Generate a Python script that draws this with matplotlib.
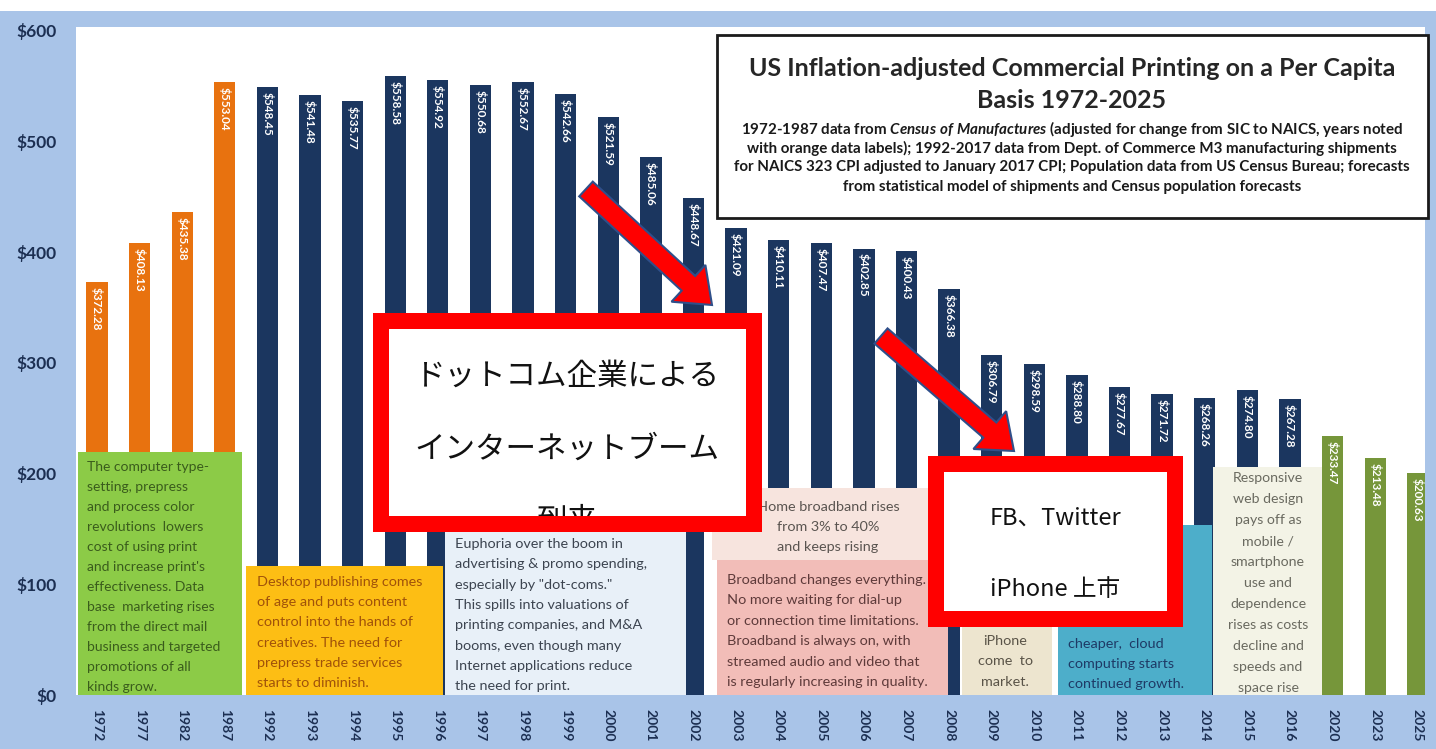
import numpy as np
import matplotlib
matplotlib.use("Agg")
import matplotlib.pyplot as plt
from matplotlib.patches import Rectangle, FancyArrow

plt.rcParams["font.family"] = ["Lato", "Noto Sans CJK JP", "DejaVu Sans"]
plt.rcParams["mathtext.fontset"] = "custom"
plt.rcParams["mathtext.it"] = "Lato:italic:bold"
plt.rcParams["mathtext.rm"] = "Lato:bold"

# ---- data -------------------------------------------------------------
years = ["1972", "1977", "1982", "1987",
         "1992", "1993", "1994", "1995", "1996", "1997", "1998", "1999",
         "2000", "2001", "2002", "2003", "2004", "2005", "2006", "2007",
         "2008", "2009", "2010", "2011", "2012", "2013", "2014", "2015",
         "2016", "2020", "2023", "2025"]
per_capita = [372.28, 408.13, 435.38, 553.04,
              548.45, 541.48, 535.77, 558.58, 554.92, 550.68, 552.67, 542.66,
              521.59, 485.06, 448.67, 421.09, 410.11, 407.47, 402.85, 400.43,
              366.38, 306.79, 298.59, 288.80, 277.67, 271.72, 268.26, 274.80,
              267.28, 233.47, 213.48, 200.63]
source = ["census"] * 4 + ["m3"] * 25 + ["forecast"] * 3
y_ticks = [0, 100, 200, 300, 400, 500, 600]

source_colors = {"census": "#E8720F", "m3": "#1B365F", "forecast": "#76963A"}

W, H = 1436, 749
fig = plt.figure(figsize=(W / 100, H / 100), dpi=100, facecolor="#A9C4E8")

# ---- main bar chart ---------------------------------------------------
ax = fig.add_axes([76 / W, (H - 695) / H, (1425 - 76) / W, (695 - 27) / H])
ax.set_facecolor("white")
x = np.arange(len(years))
ax.bar(x, per_capita, width=0.5, color=[source_colors[s] for s in source], zorder=2)
ax.set_xlim(-0.493, 31.17)
ax.set_ylim(0, 602.7)
for s in ax.spines.values():
    s.set_visible(False)
ax.set_yticks(y_ticks, labels=[f"${v}" for v in y_ticks])
ax.set_xticks(x, labels=years, rotation=270)
ax.tick_params(axis="y", length=0, pad=14, labelsize=12.5, labelcolor="#1C2F52")
ax.tick_params(axis="x", length=0, pad=10, labelsize=10, labelcolor="#1C2F52")
for lab in ax.get_xticklabels() + ax.get_yticklabels():
    lab.set_fontweight("bold")

for xi, v in zip(x, per_capita):
    ax.text(xi, v - 4.5, f"${v:.2f}", rotation=270, ha="center", va="top",
            color="white", fontsize=8.5, fontweight="bold", zorder=3)

# ---- overlay in pixel coordinates for callouts ------------------------
ov = fig.add_axes([0, 0, 1, 1], zorder=5)
ov.set_xlim(0, W)
ov.set_ylim(H, 0)
ov.axis("off")
ov.patch.set_visible(False)

ov.add_patch(Rectangle((0, 0), W, 11, facecolor="white", edgecolor="none", zorder=1))


def panel(x0, y0, x1, y1, fc):
    ov.add_patch(Rectangle((x0, y0), x1 - x0, y1 - y0, facecolor=fc,
                           edgecolor="none", zorder=2))


def text_lines(lines, x0, y0, dy, color, ha="left", size=10.4, weight="normal"):
    for i, t in enumerate(lines):
        ov.text(x0, y0 + i * dy, t, ha=ha, va="center", color=color,
                fontsize=size, fontweight=weight, zorder=3)


# era notes along the bottom
panel(78, 452, 242, 695, "#8CCB47")
text_lines(["The computer type-", "setting, prepress", "and process color",
            "revolutions  lowers", "cost of using print", "and increase print's",
            "effectiveness. Data", "base  marketing rises", "from the direct mail",
            "business and targeted", "promotions of all", "kinds grow."],
           87, 467, 20.0, "#3A5C1C", size=10.0)

panel(246, 566, 443, 695, "#FDBE14")
text_lines(["Desktop publishing comes", "of age and puts content",
            "control into the hands of", "creatives. The need for",
            "prepress trade services", "starts to diminish."],
           257, 582, 20.2, "#A0520A")

panel(445, 530, 686, 695, "#E8F0F8")
text_lines(["Euphoria over the boom in", "advertising & promo spending,",
            "especially by \"dot-coms.\"", "This spills into valuations of",
            "printing companies, and M&A", "booms, even though many",
            "Internet applications reduce", "the need for print."],
           455, 544, 20.3, "#3C4450")

panel(712, 488, 935, 560, "#F7E4DE")
text_lines(["Home broadband rises", "from 3% to 40%", "and keeps rising"],
           828, 507, 20.0, "#5A5450", ha="center")

panel(717, 560, 948, 695, "#F2BDB8")
text_lines(["Broadband changes everything.", "No more waiting for dial-up",
            "or connection time limitations.", "Broadband is always on, with",
            "streamed audio and video that", "is regularly increasing in quality."],
           727, 580, 20.4, "#5E3A3A")

panel(962, 488, 1052, 695, "#EDE5CF")
text_lines(["iPhone", "come  to", "market."],
           1005, 641, 20.3, "#5A5448", ha="center")

panel(1058, 525, 1212, 695, "#4DAECA")
text_lines(["cheaper,  cloud", "computing starts", "continued growth."],
           1068, 644, 20.2, "#1E3A66")

panel(1213, 467, 1322, 695, "#F3F3E6")
text_lines(["Responsive", "web design", "pays off as", "mobile /", "smartphone",
            "use and", "dependence", "rises as costs", "decline and",
            "speeds and", "space rise"],
           1268, 478, 21.0, "#6A6A60", ha="center", size=10.2)

# ---- title box ---------------------------------------------------------
ov.add_patch(Rectangle((717, 35), 711, 183, facecolor="white",
                       edgecolor="#1A1A1A", linewidth=2, zorder=4))
ov.text(1072, 69, "US Inflation-adjusted Commercial Printing on a Per Capita",
        ha="center", va="center", fontsize=18, fontweight="bold", color="#262626", zorder=5)
ov.text(1072, 101, "Basis 1972-2025", ha="center", va="center",
        fontsize=18, fontweight="bold", color="#262626", zorder=5)
sub = [r"1972-1987 data from $\mathit{Census\ of\ Manufactures}$ (adjusted for change from SIC to NAICS, years noted",
       "with orange data labels); 1992-2017 data from Dept. of Commerce M3 manufacturing shipments",
       "for NAICS 323 CPI adjusted to January 2017 CPI; Population data from US Census Bureau; forecasts",
       "from statistical model of shipments and Census population forecasts"]
for i, t in enumerate(sub):
    ov.text(1072, 129 + i * 19.2, t, ha="center", va="center",
            fontsize=10.9, fontweight="bold", color="#1A1A1A", zorder=5)

# ---- arrows -------------------------------------------------------------
for (x0, y0), (x1, y1) in [((586, 189), (712, 305)), ((881, 336), (1014, 451))]:
    ov.add_patch(FancyArrow(x0, y0, x1 - x0, y1 - y0, width=20, head_width=50,
                            head_length=32, length_includes_head=True,
                            facecolor="#FF0000", edgecolor="#2F4F8A",
                            linewidth=1.5, zorder=6))


# ---- red callout boxes -------------------------------------------------
def red_frame(x0, y0, x1, y1, t):
    """White panel with a thick red frame drawn over its contents."""
    ov.add_patch(Rectangle((x0, y0), x1 - x0, y1 - y0, facecolor="white",
                           edgecolor="none", zorder=7))
    for rx, ry, rw, rh in [(x0, y0, x1 - x0, t), (x0, y1 - t, x1 - x0, t),
                           (x0, y0, t, y1 - y0), (x1 - t, y0, t, y1 - y0)]:
        ov.add_patch(Rectangle((rx, ry), rw, rh, facecolor="#FF0000",
                               edgecolor="none", zorder=9))


red_frame(373, 313, 762, 532, 16)
ov.text(567, 376, "ドットコム企業による", ha="center", va="center",
        fontsize=22, color="#111111", zorder=8)
ov.text(567, 448, "インターネットブーム", ha="center", va="center",
        fontsize=22, color="#111111", zorder=8)
# third line overflows the panel; the frame hides its lower part
ov.text(567, 521, "到来", ha="center", va="center", fontsize=22,
        color="#111111", zorder=8)

red_frame(928, 456, 1183, 627, 16)
ov.text(1055, 518, "FB、Twitter", ha="center", va="center", fontsize=17,
        color="#111111", family=["Noto Sans CJK JP", "DejaVu Sans"], zorder=8)
ov.text(1055, 590, "iPhone 上市", ha="center", va="center", fontsize=17,
        color="#111111", family=["Noto Sans CJK JP", "DejaVu Sans"], zorder=8)

fig.savefig("out.png", dpi=100, facecolor=fig.get_facecolor())
